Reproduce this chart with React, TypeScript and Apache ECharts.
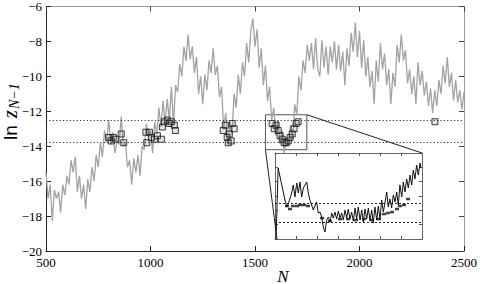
import React, { useEffect, useRef } from "react";
import * as echarts from "echarts";

// ---- main series: ln z_{N-1} sampled every 10 steps from N = 500 ----
const N_START = 500;
const N_STEP = 10;
const lnZ = [
  -15.5, -17.0, -16.2, -18.3, -16.5, -17.0, -16.6, -17.8, -16.2, -16.8,
  -15.7, -16.2, -14.8, -15.5, -14.6, -16.6, -15.7, -17.0, -16.2, -17.6,
  -15.9, -16.6, -15.2, -16.0, -14.5, -15.2, -13.8, -14.6, -13.1, -13.8,
  -12.5, -13.9, -13.2, -14.4, -13.7, -13.9, -12.3, -14.0, -13.8, -15.2,
  -14.8, -16.2, -14.7, -15.5, -14.5, -15.7, -14.0, -14.2, -12.7, -13.5,
  -13.1, -14.4, -12.6, -13.3, -11.8, -12.9, -11.4, -12.7, -11.3, -12.5,
  -10.6, -12.8, -10.5, -10.9, -9.3, -10.0, -8.3, -9.1, -7.6, -9.0,
  -8.3, -9.8, -8.9, -11.0, -10.0, -11.6, -9.9, -10.8, -9.1, -9.8,
  -8.4, -9.9, -9.4, -11.2, -10.6, -13.0, -12.1, -13.9, -12.6, -13.3,
  -11.0, -11.8, -9.9, -11.0, -9.2, -10.0, -8.1, -9.2, -7.4, -6.7,
  -8.3, -7.3, -9.5, -8.4, -10.5, -9.4, -11.4, -10.6, -12.5, -11.8,
  -13.4, -12.5, -13.9, -13.1, -14.4, -13.5, -14.0, -12.8, -13.6, -11.6,
  -12.2, -10.0, -10.8, -9.1, -9.8, -8.2, -9.1, -8.1, -9.6, -7.8,
  -9.6, -10.0, -7.9, -9.5, -8.3, -9.9, -8.3, -9.2, -8.0, -9.6,
  -8.2, -9.7, -8.6, -10.5, -8.4, -9.4, -7.5, -8.6, -6.9, -8.9,
  -7.4, -9.5, -7.9, -10.0, -8.9, -10.6, -9.7, -11.6, -9.1, -10.3,
  -8.1, -9.6, -8.7, -10.5, -9.6, -11.6, -9.8, -10.6, -8.2, -9.2,
  -7.6, -9.1, -8.5, -10.4, -9.6, -11.0, -10.0, -11.6, -9.2, -10.5,
  -9.7, -11.1, -10.3, -11.7, -10.7, -12.1, -10.8, -11.7, -10.2, -11.0,
  -9.4, -10.4, -8.9, -10.6, -9.8, -11.4, -10.2, -11.5, -10.8, -11.9,
  -10.9,
];

// ---- square markers (points inside the band) ----
const markN = [
  800, 812, 822, 832, 860, 872, 978, 982,
  995, 1005, 1019, 1033, 1052, 1057, 1066, 1080, 1090, 1100, 1114, 1119,
  1348, 1358, 1367, 1372, 1377, 1386, 1391, 1400,
  1582, 1592, 1601, 1611, 1620, 1630, 1640, 1649, 1659, 1668, 1678, 1687, 1697, 1706,
  2361,
];
const markV = [
  -13.5, -13.7, -13.5, -13.6, -13.3, -13.8, -13.2, -13.8,
  -13.2, -13.5, -13.6, -13.4, -13.6, -12.9, -12.6, -12.5, -12.7, -12.6, -12.8, -13.1,
  -13.1, -12.8, -13.5, -13.8, -13.3, -13.7, -12.7, -13.0,
  -12.7, -13.0, -12.8, -13.1, -13.4, -13.6, -13.8, -13.8, -13.7, -13.5, -13.3, -13.0, -12.7, -12.6,
  -12.6,
];

const levels = [-12.5, -13.8];
const zoomBoxN = [1550, 1748];
const zoomBoxV = [-12.2, -14.2];

// ---- inset ----
const insetX = [
  1, 3, 9.5, 11.4, 12.9, 15.9, 17.4, 19, 20.7, 22.2, 23.8, 25.4, 27, 30.2, 31.7, 33.3,
  36.5, 39.7, 41.2, 42.9, 44.5, 46, 47.6, 49.2, 50.8, 52.4, 54, 55.5, 57.1, 58.7, 60.3,
  61.9, 63.5, 65, 66.7, 68.3, 69.8, 71.4, 73, 74.6, 76.2, 77.8, 79.3, 81, 82.6, 84.1,
  85.7, 87.3, 88.9, 90.5, 92.1, 93.6, 95.2, 96.9, 98.4, 100, 101.6, 103.2, 106.4, 107.9,
  109.5, 111.1, 112.7, 114.3, 115.9, 117.4, 119, 120.7, 122.2, 123.8, 125.4, 127, 128.6,
  130.2, 131.7, 133.3, 134.9, 136.5, 138.1, 139,
];
const insetY = [
  -15.0, -10.05, -12.28, -12.77, -12.49, -11.79, -11.23, -12.07, -11.09, -11.79, -11.02,
  -12.07, -11.44, -11.02, -11.79, -12.28, -12.98, -12.42, -13.19, -13.12, -13.47, -14.16,
  -14.51, -13.68, -13.47, -13.81, -13.19, -13.54, -13.12, -13.61, -13.05, -13.54, -13.19,
  -13.68, -12.98, -13.54, -12.91, -13.61, -13.12, -13.75, -12.84, -13.61, -12.77, -13.68,
  -12.98, -13.82, -12.91, -13.61, -12.84, -13.75, -12.98, -13.89, -12.77, -13.68, -12.7,
  -13.61, -12.28, -13.12, -11.72, -12.77, -12.21, -12.84, -11.93, -12.42, -11.72, -12.63,
  -11.23, -12.07, -11.02, -11.72, -10.81, -11.44, -10.54, -11.23, -10.19, -10.81, -9.84,
  -10.54, -9.7, -10.05,
];
const insetMarkX = [
  11.4, 14.3, 17.1, 21, 23.8, 27.6, 31.4,
  44.8, 52.4, 61.9, 69.5, 77.1, 84.8, 92.4, 99,
  103.7, 107.5, 111.4, 116.2, 119, 122.9, 126.7,
];
const insetMarkY = [
  -12.7, -12.91, -12.7, -12.7, -12.63, -12.63, -12.7,
  -13.54, -13.75, -13.61, -13.61, -13.68, -13.61, -13.68, -13.61,
  -13.26, -13.19, -13.12, -12.91, -12.7, -12.63, -12.21,
];

const SERIF = "Liberation Serif";
const MINUS = "\u2212";

export default function App() {
  const ref = useRef<HTMLDivElement>(null);
  useEffect(() => {
    if (!ref.current) return;
    const chart = echarts.init(ref.current, null, { renderer: "svg" });
    const lineData = lnZ.map((v, i) => [N_START + i * N_STEP, v]);
    const markData = markN.map((n, i) => [n, markV[i]]);
    const insetData = insetX.map((x, i) => [x, insetY[i]]);
    const insetMarks = insetMarkX.map((x, i) => [x, insetMarkY[i]]);

    const inset = { left: 275, top: 153, width: 147, height: 86 };

    const mainAxisLabel = {
      color: "#000",
      fontFamily: SERIF,
      fontSize: 13,
    };

    chart.setOption({
      animation: false,
      backgroundColor: "#fff",
      grid: [
        { left: 46, right: 15, top: 6, bottom: 33 },
        { left: inset.left, top: inset.top, width: inset.width, height: inset.height },
      ],
      xAxis: [
        {
          type: "value", gridIndex: 0, position: "bottom", min: 500, max: 2500, interval: 500,
          axisLine: { lineStyle: { color: "#222", width: 1 } },
          axisTick: { inside: true, length: 5, lineStyle: { color: "#222" } },
          axisLabel: { ...mainAxisLabel, margin: 5, formatter: (v: number) => String(v) },
          splitLine: { show: false },
        },
        {
          type: "value", gridIndex: 0, position: "top", min: 500, max: 2500, interval: 500,
          axisLine: { lineStyle: { color: "#999", width: 1 } },
          axisTick: { inside: true, length: 5, lineStyle: { color: "#444" } },
          axisLabel: { show: false },
          splitLine: { show: false },
        },
        {
          type: "value", gridIndex: 1, position: "bottom", min: 0, max: 140, interval: 20,
          axisLine: { onZero: false, lineStyle: { color: "#666", width: 1 } },
          axisTick: { inside: true, length: 3, lineStyle: { color: "#555" } },
          axisLabel: { show: false },
          splitLine: { show: false },
        },
        {
          type: "value", gridIndex: 1, position: "top", min: 0, max: 140, interval: 20,
          axisLine: { onZero: false, lineStyle: { color: "#666", width: 1 } },
          axisTick: { inside: true, length: 3, lineStyle: { color: "#555" } },
          axisLabel: { show: false },
          splitLine: { show: false },
        },
      ],
      yAxis: [
        {
          type: "value", gridIndex: 0, position: "left", min: -20, max: -6, interval: 2,
          axisLine: { lineStyle: { color: "#222", width: 1 } },
          axisTick: { inside: true, length: 5, lineStyle: { color: "#222" } },
          axisLabel: {
            ...mainAxisLabel, margin: 4,
            formatter: (v: number) => String(v).replace("-", MINUS),
          },
          splitLine: { show: false },
        },
        {
          type: "value", gridIndex: 0, position: "right", min: -20, max: -6, interval: 2,
          axisLine: { lineStyle: { color: "#999", width: 1 } },
          axisTick: { inside: true, length: 5, lineStyle: { color: "#444" } },
          axisLabel: { show: false },
          splitLine: { show: false },
        },
        {
          type: "value", gridIndex: 1, position: "left", min: -15, max: -9, interval: 1,
          axisLine: { onZero: false, lineStyle: { color: "#666", width: 1 } },
          axisTick: { inside: true, length: 3, lineStyle: { color: "#555" } },
          axisLabel: { show: false },
          splitLine: { show: false },
        },
        {
          type: "value", gridIndex: 1, position: "right", min: -15, max: -9, interval: 1,
          axisLine: { onZero: false, lineStyle: { color: "#666", width: 1 } },
          axisTick: { inside: true, length: 3, lineStyle: { color: "#555" } },
          axisLabel: { show: false },
          splitLine: { show: false },
        },
      ],
      series: [
        {
          type: "line", xAxisIndex: 0, yAxisIndex: 0, data: lineData,
          showSymbol: false, symbol: "none",
          lineStyle: { color: "#a3a3a3", width: 1.3 },
          z: 2,
          markLine: {
            silent: true, symbol: "none", label: { show: false },
            lineStyle: { color: "#333", width: 1, type: [1.2, 2.2] },
            data: levels.map((v) => ({ yAxis: v })),
          },
          markArea: {
            silent: true, label: { show: false },
            itemStyle: { color: "rgba(0,0,0,0)", borderColor: "#555", borderWidth: 1 },
            data: [[{ coord: [zoomBoxN[0], zoomBoxV[0]] }, { coord: [zoomBoxN[1], zoomBoxV[1]] }]],
          },
        },
        {
          type: "scatter", xAxisIndex: 0, yAxisIndex: 0, data: markData,
          symbol: "rect", symbolSize: 6,
          itemStyle: { color: "rgba(120,120,120,0.25)", borderColor: "#111", borderWidth: 1 },
          z: 4,
        },
        {
          type: "line", xAxisIndex: 2, yAxisIndex: 2, data: insetData,
          showSymbol: false, symbol: "none",
          lineStyle: { color: "#111", width: 1 },
          z: 5,
          markLine: {
            silent: true, symbol: "none", label: { show: false },
            lineStyle: { color: "#222", width: 1, type: [2, 2] },
            data: levels.map((v) => ({ yAxis: v })),
          },
        },
        {
          type: "scatter", xAxisIndex: 2, yAxisIndex: 2, data: insetMarks,
          symbol: "rect", symbolSize: [4, 2.5],
          itemStyle: { color: "#111" },
          z: 6,
        },
      ],
    });

    const boxTR = chart.convertToPixel({ xAxisIndex: 0, yAxisIndex: 0 }, [zoomBoxN[1], zoomBoxV[0]]) as number[];
    const boxBL = chart.convertToPixel({ xAxisIndex: 0, yAxisIndex: 0 }, [zoomBoxN[0], zoomBoxV[1]]) as number[];
    const inTR = [inset.left + inset.width, inset.top];
    const inBL = [inset.left + 2, inset.top + inset.height];

    chart.setOption({
      graphic: {
        elements: [
          {
            type: "line", id: "c1", z: 10, silent: true,
            shape: { x1: boxTR[0], y1: boxTR[1], x2: inTR[0], y2: inTR[1] },
            style: { stroke: "#222", lineWidth: 1 },
          },
          {
            type: "line", id: "c2", z: 10, silent: true,
            shape: { x1: boxBL[0], y1: boxBL[1], x2: inBL[0], y2: inBL[1] },
            style: { stroke: "#222", lineWidth: 1 },
          },
          {
            type: "group", id: "ytitle", x: 10, y: 140, rotation: Math.PI / 2,
            children: [
              {
                type: "text", x: 0, y: 0,
                style: { text: "ln", fontFamily: "Liberation Sans", fontSize: 19, fill: "#000", textVerticalAlign: "middle", textAlign: "left" },
              },
              {
                type: "text", x: 22, y: 0,
                style: { text: "z", fontFamily: SERIF, fontStyle: "italic", fontSize: 20, fill: "#000", textVerticalAlign: "middle", textAlign: "left" },
              },
              {
                type: "text", x: 31, y: 4,
                style: { text: "N" + MINUS + "1", fontFamily: SERIF, fontStyle: "italic", fontSize: 14, fill: "#000", textVerticalAlign: "middle", textAlign: "left" },
              },
            ],
          },
          {
            type: "text", id: "xtitle", x: 283, y: 276,
            style: { text: "N", fontFamily: SERIF, fontStyle: "italic", fontSize: 17, fill: "#000", textAlign: "center", textVerticalAlign: "middle" },
          },
        ],
      },
    });

    return () => chart.dispose();
  }, []);
  return <div ref={ref} style={{ width: 480, height: 284, position: "absolute", left: 0, top: 0 }} />;
}
